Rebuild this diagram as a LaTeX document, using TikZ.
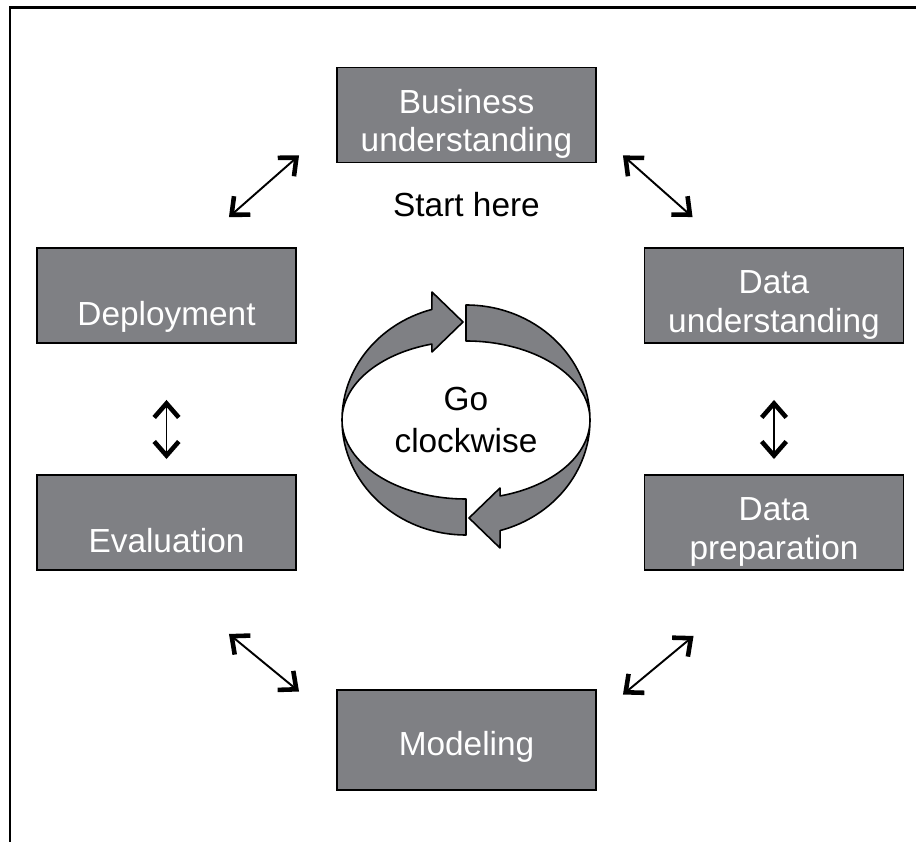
\documentclass[tikz,border=0pt]{standalone}
\usepackage{fontspec}
\setmainfont{Liberation Sans}
\usetikzlibrary{positioning, arrows.meta}
\definecolor{boxgray}{RGB}{127,128,132}
\tikzset{node distance=4.54cm, % Vertical distance between the side boxes.
every node/.style={font=\fontsize{19}{22}\selectfont},
stage/.style={ % The grey phase boxes, the strut sets the text a bit low
draw=black, line width=1.1pt,
fill=boxgray, text=white, align=center,
minimum width=5.18cm, minimum height=1.9cm, inner sep=0pt,
execute at begin node={\rule[-4pt]{0pt}{#1}}},
stage/.default=42pt,
>={Straight Barb[length=8pt,width=14pt,line width=2.6pt]}, % Open heads
link/.style={<->, line width=1.1pt}, % Two way arrows between phases
ribbon/.style={fill=boxgray, draw=black, line width=0.9pt, line join=round}}

\begin{document}
\begin{tikzpicture}
    \useasboundingbox (0,0) rectangle (18.32,-16.84);
    \draw[line width=1.7pt] (18.32,-0.15) -- (0.2,-0.15) -- (0.2,-16.84);

    \node[stage=50pt] (biz) at (9.33,-2.3) {Business\\understanding};
    \node[stage, below of=biz, xshift=-6cm, yshift=0.93cm] (dep) {Deployment};
    \node[stage=50pt, below of=biz, xshift=6.15cm, yshift=0.93cm] (du) {Data\\understanding};
    \node[stage, below of=dep] (eval) {Evaluation};
    \node[stage=50pt, below of=du] (prep) {Data\\preparation};
    \node[stage=26pt, below of=eval, xshift=6cm, yshift=0.19cm, minimum height=2cm] (model) {Modeling};
    \node[below of=biz, yshift=2.74cm] (start) {Start here};

    \draw[link] ([xshift=-1.36cm, yshift=0.6cm]dep.north east) -- ([xshift=-0.74cm, yshift=0.16cm]biz.south west);
    \draw[link] ([xshift=0.52cm, yshift=0.16cm]biz.south east) -- ([xshift=0.98cm, yshift=0.6cm]du.north west);
    \draw[link] ([yshift=-1.12cm]dep.south) -- ([yshift=0.3cm]eval.north);
    \draw[link] ([yshift=-1.12cm]du.south) -- ([yshift=0.3cm]prep.north);
    \draw[link] ([xshift=-1.36cm, yshift=-1.26cm]eval.south east) -- ([xshift=-0.74cm, yshift=-0.05cm]model.north west);
    \draw[link] ([xshift=1cm, yshift=-1.3cm]prep.south west) -- ([xshift=0.52cm, yshift=-0.11cm]model.north east);

    % twisted loop in the middle
    \coordinate (hub) at (9.32,-8.4);
    \begin{scope}[shift={(hub)}]
        \filldraw[ribbon] (180:2.48 and 2.3) arc[start angle=180, end angle=106, x radius=2.48cm, y radius=2.3cm]
            -- (-0.68,2.56) -- (-0.06,1.96) -- (-0.68,1.36)
            -- (106:2.48 and 1.58) arc[start angle=106, end angle=180, x radius=2.48cm, y radius=1.58cm] -- cycle;
        \filldraw[ribbon] (90:2.48 and 2.3) arc[start angle=90, end angle=0, x radius=2.48cm, y radius=2.3cm]
            arc[start angle=0, end angle=90, x radius=2.48cm, y radius=1.58cm] -- cycle;
        \filldraw[ribbon] (0:2.48 and 2.3) arc[start angle=0, end angle=-74, x radius=2.48cm, y radius=2.3cm]
            -- (0.68,-2.56) -- (0.06,-1.96) -- (0.68,-1.36)
            -- (-74:2.48 and 1.58) arc[start angle=-74, end angle=0, x radius=2.48cm, y radius=1.58cm] -- cycle;
        \filldraw[ribbon] (-90:2.48 and 2.3) arc[start angle=-90, end angle=-180, x radius=2.48cm, y radius=2.3cm]
            arc[start angle=180, end angle=270, x radius=2.48cm, y radius=1.58cm] -- cycle;
    \end{scope}
    \node[align=center] (go) at (hub) {Go\\[2pt]clockwise};

\end{tikzpicture}
\end{document}
